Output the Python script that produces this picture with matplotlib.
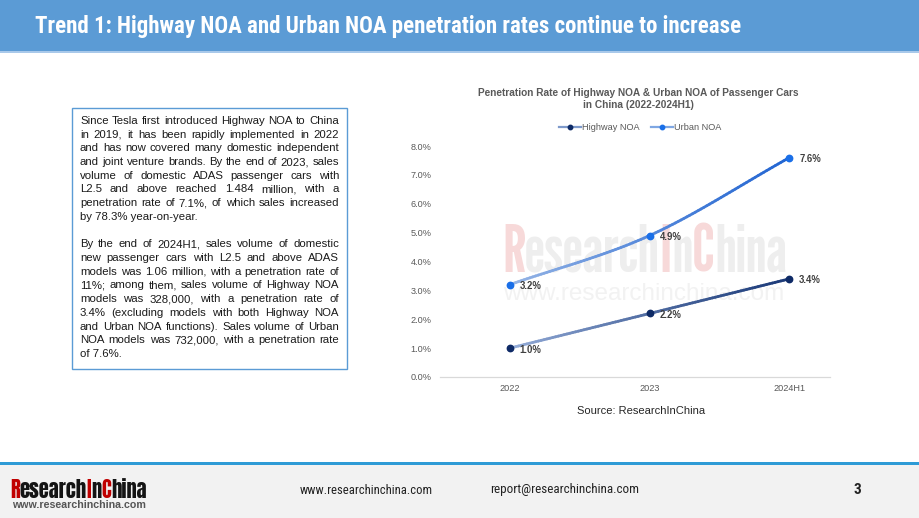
import matplotlib
matplotlib.use('Agg')
import matplotlib.pyplot as plt
import numpy as np
from matplotlib import font_manager
from matplotlib.collections import LineCollection
from matplotlib.patches import Rectangle
from matplotlib.lines import Line2D
from matplotlib.colors import to_rgb

# ---------------- data ----------------
categories = ['2022', '2023', '2024H1']
highway_noa = [1.0, 2.2, 3.4]
urban_noa = [3.2, 4.9, 7.6]
y_ticks = [0, 1, 2, 3, 4, 5, 6, 7, 8]
y_tick_labels = ['0.0%', '1.0%', '2.0%', '3.0%', '4.0%', '5.0%', '6.0%', '7.0%', '8.0%']
series_names = ['Highway NOA', 'Urban NOA']

header_title = 'Trend 1: Highway NOA and Urban NOA penetration rates continue to increase'
chart_title = ['Penetration Rate of Highway NOA & Urban NOA of Passenger Cars',
               'in China (2022-2024H1)']
source_text = 'Source: ResearchInChina'
paragraphs = [
    ['Since Tesla first introduced Highway NOA to China',
     'in 2019, it has been rapidly implemented in 2022',
     'and has now covered many domestic independent',
     'and joint venture brands. By the end of 2023, sales',
     'volume of domestic ADAS passenger cars with',
     'L2.5 and above reached 1.484 million, with a',
     'penetration rate of 7.1%, of which sales increased',
     'by 78.3% year-on-year.'],
    ['By the end of 2024H1, sales volume of domestic',
     'new passenger cars with L2.5 and above ADAS',
     'models was 1.06 million, with a penetration rate of',
     '11%; among them, sales volume of Highway NOA',
     'models was 328,000, with a penetration rate of',
     '3.4% (excluding models with both Highway NOA',
     'and Urban NOA functions). Sales volume of Urban',
     'NOA models was 732,000, with a penetration rate',
     'of 7.6%.'],
]
footer_web = 'www.researchinchina.com'
footer_mail = 'report@researchinchina.com'
page_number = '3'
logo_pieces = [('R', True), ('esearch', False), ('I', True), ('n', False), ('C', True), ('hina', False)]

# ---------------- fonts ----------------
names = {f.name for f in font_manager.fontManager.ttflist}


def pick(cands, default):
    for c in cands:
        if c in names:
            return c
    return default


SANS = pick(['Liberation Sans', 'Arimo'], 'DejaVu Sans')
NARROW = pick(['Liberation Sans Narrow', 'Roboto Condensed', 'Archivo Narrow'], SANS)
LOGO = pick(['Anton', 'Oswald'], NARROW)
WMARK = pick(['League Gothic', 'Anton'], NARROW)

W, H = 920, 518
fig = plt.figure(figsize=(W / 100, H / 100), dpi=100)
fig.patch.set_facecolor('white')
renderer = fig.canvas.get_renderer()


def fx(x):
    return x / W


def fy(y):
    return 1 - y / H


def twidth(t):
    return t.get_window_extent(renderer).width


def fit_text(x, y, s, width, **kw):
    t = fig.text(fx(x), fy(y), s, fontsize=10, **kw)
    t.set_fontsize(10 * width / twidth(t))
    return t


def rect(x0, y0, x1, y1, **kw):
    r = Rectangle((fx(x0), fy(y1)), (x1 - x0) / W, (y1 - y0) / H,
                  transform=fig.transFigure, **kw)
    fig.patches.append(r)
    return r


# ---------------- header ----------------
rect(0, 0, 920, 51, facecolor='#5B9BD5', edgecolor='none', zorder=0)
rect(0, 51, 920, 53, facecolor='#A9C9EA', edgecolor='none', zorder=0)
fit_text(35, 27, header_title, 707, color='white', fontweight='bold',
         family=NARROW, va='center', ha='left')

# ---------------- footer ----------------
rect(0, 462, 920, 464.5, facecolor='#2E9BD6', edgecolor='none', zorder=0)
rect(0, 464.5, 920, 518, facecolor='#F2F2F2', edgecolor='none', zorder=0)


def colored_word(x0, baseline, target_w, pieces, c_hi, c_lo, zorder=3, **kw):
    full = ''.join(p for p, _ in pieces)
    t = fig.text(0, 0, full, fontsize=10, **kw)
    fs = 10 * target_w / twidth(t)
    t.remove()
    x = x0
    for s, hi in pieces:
        tt = fig.text(fx(x), fy(baseline), s, fontsize=fs, color=c_hi if hi else c_lo,
                      va='baseline', ha='left', zorder=zorder, **kw)
        x += twidth(tt)
    return fs


colored_word(10, 498, 137, logo_pieces, '#C00000', '#141414', family=LOGO)
fit_text(12, 505.5, footer_web, 134, color='#555555', fontweight='bold', family=SANS,
         va='center', ha='left')
fit_text(300, 490, footer_web, 132, color='#222222', family=NARROW, va='center', ha='left')
fit_text(490, 490, footer_mail, 147, color='#222222', family=NARROW, va='center', ha='left')
fig.text(fx(857), fy(490), page_number, fontsize=11, fontweight='bold', color='#222222',
         family=NARROW, va='center', ha='center')

# ---------------- text box ----------------
rect(72, 108, 347, 369, facecolor='none', edgecolor='#5B9BD5', lw=1.0, zorder=2)
x_left, x_right = 80, 339
sizes = []
for para in paragraphs:
    for line in para[:-1]:
        t = fig.text(0, 0, line, fontsize=10, family=SANS)
        sizes.append(10 * (x_right - x_left) / twidth(t))
        t.remove()
body_fs = min(sizes)
line_step = 13.7
row = 0
for para in paragraphs:
    for li, line in enumerate(para):
        baseline = 120 + line_step * row + 4
        words = line.split(' ')
        if li == len(para) - 1:
            fig.text(fx(x_left), fy(baseline), line, fontsize=body_fs, family=SANS,
                     color='#1A1A1A', va='baseline', ha='left')
        else:
            ts = [fig.text(0, fy(baseline), w, fontsize=body_fs, family=SANS,
                           color='#1A1A1A', va='baseline', ha='left') for w in words]
            ws = [twidth(t) for t in ts]
            gap = (x_right - x_left - sum(ws)) / max(len(words) - 1, 1)
            x = x_left
            for t, w in zip(ts, ws):
                t.set_x(fx(x))
                x += w + gap
        row += 1
    row += 1

# ---------------- watermark ----------------
colored_word(502, 272, 285, logo_pieces, '#F7D9D9', '#EEEEEE', zorder=-1, family=WMARK)
fit_text(503, 294, footer_web, 283, color='#F2F2F2', family=SANS, va='center', ha='left',
         zorder=-1)

# ---------------- chart ----------------
ax = fig.add_axes([fx(440), fy(377), (830 - 440) / W, (377 - 146) / H])
ax.patch.set_visible(False)
ax.set_zorder(1)
x = np.arange(len(categories))
ax.set_xlim(-0.5, 2.29)
ax.set_ylim(0, 8)
ax.set_yticks(y_ticks)
ax.set_yticklabels(y_tick_labels)
ax.set_xticks(x)
ax.set_xticklabels(categories)
for s in ['top', 'right', 'left']:
    ax.spines[s].set_visible(False)
ax.spines['bottom'].set_color('#D9D9D9')
ax.spines['bottom'].set_linewidth(0.9)
ax.tick_params(axis='both', length=0, labelsize=6.6, labelcolor='#595959')
ax.tick_params(axis='y', pad=6)
ax.tick_params(axis='x', pad=5)
for lab in ax.get_xticklabels() + ax.get_yticklabels():
    lab.set_family(SANS)


def smooth(xs, ys, n=50):
    P = np.column_stack([xs, ys]).astype(float)
    P = np.vstack([2 * P[0] - P[1], P, 2 * P[-1] - P[-2]])
    out = []
    for i in range(1, len(P) - 2):
        p0, p1, p2, p3 = P[i - 1], P[i], P[i + 1], P[i + 2]
        t = np.linspace(0, 1, n)[:, None]
        c = 0.5 * ((2 * p1) + (-p0 + p2) * t + (2 * p0 - 5 * p1 + 4 * p2 - p3) * t ** 2
                   + (-p0 + 3 * p1 - 3 * p2 + p3) * t ** 3)
        out.append(c if i == 1 else c[1:])
    return np.vstack(out)


styles = [
    dict(c0='#9AB2DD', c1='#1B3A78', marker='#0E2A66', handle='#7E9ACB'),
    dict(c0='#9CB9E6', c1='#2265D2', marker='#1A6FE8', handle='#7FA7E3'),
]
handles = []
for vals, name, st in zip([highway_noa, urban_noa], series_names, styles):
    pts = smooth(x, vals)
    segs = np.stack([pts[:-1], pts[1:]], axis=1)
    frac = (pts[:-1, 0] + pts[1:, 0]) / 2 / x[-1]
    frac = np.clip(frac, 0, 1) ** 0.8
    c0, c1 = np.array(to_rgb(st['c0'])), np.array(to_rgb(st['c1']))
    cols = c0[None, :] * (1 - frac[:, None]) + c1[None, :] * frac[:, None]
    lc = LineCollection(segs, colors=cols, linewidths=2.0, capstyle='round', zorder=2)
    ax.add_collection(lc)
    ax.plot(x, vals, linestyle='none', marker='o', markersize=4.6, color=st['marker'],
            zorder=3, clip_on=False)
    for xi, v in zip(x, vals):
        ax.annotate(f'{v:.1f}%', (xi, v), xytext=(7, -1), textcoords='offset points',
                    ha='left', va='center', fontsize=6.9, fontweight='bold',
                    color='#404040', family=SANS)
    handles.append(Line2D([0], [0], color=st['handle'], lw=1.6, marker='o',
                          markersize=3.2, markerfacecolor=st['marker'],
                          markeredgecolor=st['marker']))

leg = ax.legend(handles, series_names, loc='center', bbox_to_anchor=(fx(640), fy(128)),
                bbox_transform=fig.transFigure, ncol=2, frameon=False,
                prop=dict(family=SANS, size=6.6), handlelength=2.4, handletextpad=0.15,
                columnspacing=1.2, borderpad=0)
for t in leg.get_texts():
    t.set_color('#595959')

fig.text(fx(638), fy(92.5), chart_title[0], fontsize=7.3, fontweight='bold', color='#595959',
         family=SANS, ha='center', va='center')
fig.text(fx(638), fy(105.5), chart_title[1], fontsize=7.3, fontweight='bold', color='#595959',
         family=SANS, ha='center', va='center')
fig.text(fx(641), fy(411), source_text, fontsize=8, color='#262626', family=SANS,
         ha='center', va='center')

fig.savefig('out.png', dpi=100, facecolor='white')
